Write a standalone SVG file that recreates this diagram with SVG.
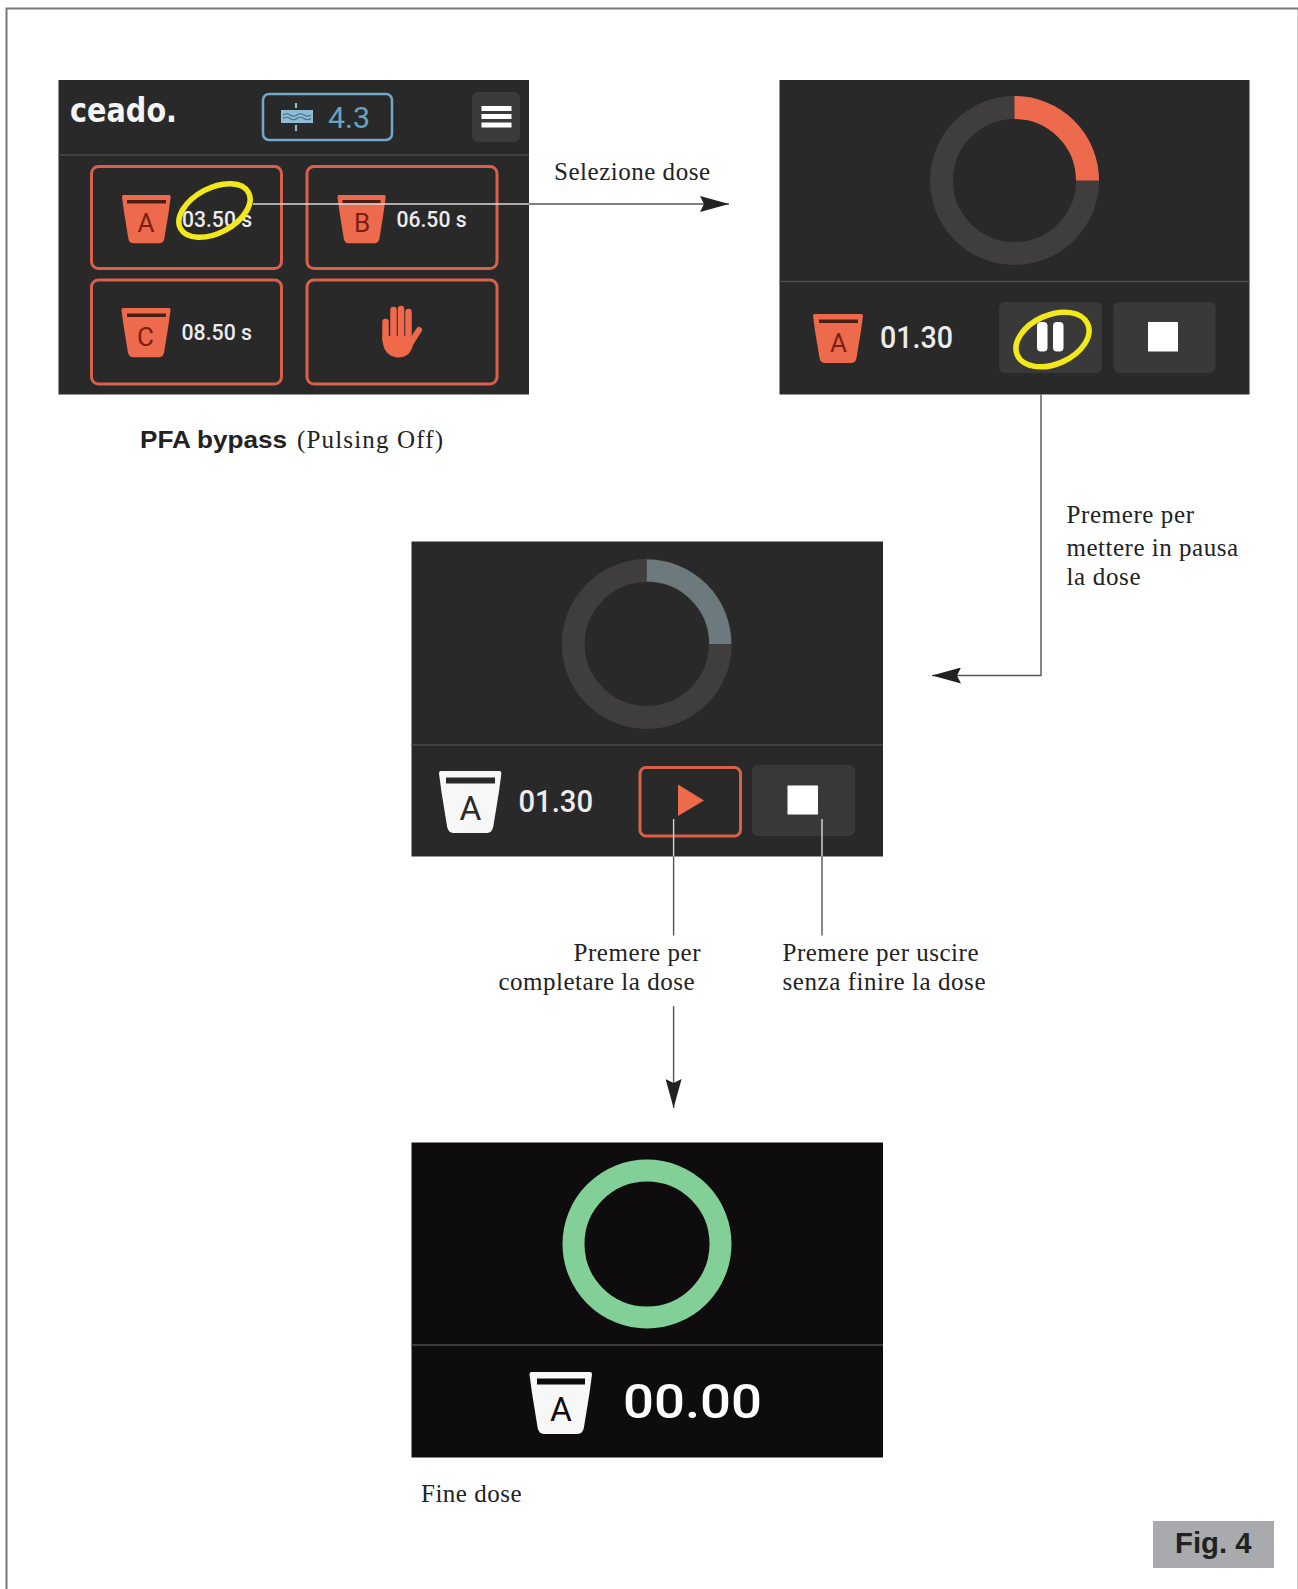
<svg xmlns="http://www.w3.org/2000/svg" xmlns:xlink="http://www.w3.org/1999/xlink" width="1298" height="1589" viewBox="0 0 1298 1589">
<style>
.panel{fill:#2a2929}
.div{stroke:#4b4a4a;stroke-width:1.3}
.card{fill:none;stroke:#d9604a;stroke-width:3}
.btn{fill:#3a3939}
.dig{font-family:"Roboto","Liberation Sans",sans-serif;font-weight:500;fill:#ececec}
.sm{font-size:22px}
.md{font-size:31px}
.let{font-family:"Roboto","Liberation Sans",sans-serif;text-anchor:middle;font-size:26px}
.big{font-size:33.5px}
.ser{font-family:"Liberation Serif",serif;font-size:25px;fill:#222}
.yel{fill:none;stroke:#f2e81a;stroke-width:5.5}
.track{fill:none;stroke:#3f3d3e;stroke-width:23}
.ln{stroke:#555;stroke-width:1.4;fill:none}
.lt{stroke:#d8d8d8;stroke-width:1.4;fill:none}
.o{fill:#ee6a4d}
.w{fill:#f7f7f7}
</style>
<defs>
<path id="bucket" d="M3 0H97Q100 0 100 4L96 34L87 90Q85 100 77 100H23Q15 100 13 90L4 34L0 4Q0 0 3 0Z"/>
<marker id="head" markerUnits="userSpaceOnUse" markerWidth="30" markerHeight="16" refX="29" refY="8" orient="auto"><path d="M0 0L29 8L0 16L4 8Z" fill="#222"/></marker>
</defs>
<rect width="1298" height="1589" fill="#fff"/>
<path d="M1297.5 1589V8.5" fill="none" stroke="#d0d0d0" stroke-width="1"/>
<path d="M6.5 1589V8.5H1298" fill="none" stroke="#777" stroke-width="2"/>

<g id="panel-select">
<rect class="panel" x="58.5" y="80" width="470.5" height="314.5"/>
<line class="div" x1="58.5" y1="155" x2="529" y2="155"/>
<text x="70" y="122" font-family="'DejaVu Sans',sans-serif" font-weight="700" font-size="33" fill="#f4f4f4" textLength="107" lengthAdjust="spacingAndGlyphs">ceado.</text>
<rect x="263" y="94" width="129" height="46" rx="6" fill="none" stroke="#6fa8c8" stroke-width="2.5"/>
<rect x="281" y="110" width="32" height="13" fill="#8fbcd4"/>
<path d="M283 115q3.500-2.500 7 0t7 0t7 0t7 0M283 118.500q3.500-2.500 7 0t7 0t7 0t7 0" stroke="#3f6f8c" stroke-width="1.200" fill="none"/>
<path d="M296 103V108M296 125V131" stroke="#8fbcd4" stroke-width="2.200" fill="none"/>
<text x="328" y="127.500" font-family="Roboto,sans-serif" font-size="29" fill="#68a3c4" textLength="42" lengthAdjust="spacingAndGlyphs">4.3</text>
<rect x="472" y="92" width="48" height="50" rx="6" fill="#3c3b3c"/>
<rect x="481.500" y="106" width="30" height="5" fill="#fff"/><rect x="481.500" y="114" width="30" height="5" fill="#fff"/><rect x="481.500" y="122.500" width="30" height="5" fill="#fff"/>
<rect class="card" x="91.500" y="166.500" width="190" height="102" rx="7"/>
<rect class="card" x="307" y="166.500" width="190" height="102" rx="7"/>
<rect class="card" x="91.500" y="280" width="190" height="104" rx="7"/>
<rect class="card" x="307" y="280" width="190" height="104" rx="7"/>
<use xlink:href="#bucket" href="#bucket" class="o" transform="translate(122 195) scale(.487 .483)"/>
<rect x="127" y="200" width="39" height="3.500" fill="#4a1d15"/>
<text class="let" x="146" y="232" fill="#7a2014">A</text>
<text class="dig sm" x="182" y="226.500" textLength="70" lengthAdjust="spacingAndGlyphs">03.50 s</text>
<use xlink:href="#bucket" href="#bucket" class="o" transform="translate(337.500 195) scale(.482 .483)"/>
<rect x="342.500" y="200" width="38" height="3.500" fill="#4a1d15"/>
<text class="let" x="362" y="232" fill="#7a2014">B</text>
<text class="dig sm" x="396.500" y="226.500" textLength="70" lengthAdjust="spacingAndGlyphs">06.50 s</text>
<use xlink:href="#bucket" href="#bucket" class="o" transform="translate(121.500 308) scale(.49 .493)"/>
<rect x="127" y="313.500" width="39" height="3.500" fill="#4a1d15"/>
<text class="let" x="145.500" y="346" fill="#7a2014">C</text>
<text class="dig sm" x="181.500" y="340" textLength="70.500" lengthAdjust="spacingAndGlyphs">08.50 s</text>
<g fill="none" stroke="#f0694a" stroke-linecap="round">
<path d="M385.500 322V340M393.500 310V336M401 309V336M408.500 312V336" stroke-width="6.500"/>
<path d="M407 349L419 330" stroke-width="6"/>
</g>
<path d="M382.500 336H411.500L413 345Q410 358 397 357.500Q385 356 383 344Z" fill="#f0694a"/>
<ellipse class="yel" cx="214.500" cy="210.500" rx="38.500" ry="22.500" transform="rotate(-28 214.500 210.500)"/>
</g>
<text id="caption-pfa" y="447.500"><tspan x="140" font-family="'Liberation Sans',sans-serif" font-weight="700" font-size="24.500" fill="#222" textLength="147" lengthAdjust="spacingAndGlyphs">PFA bypass</tspan><tspan x="297" class="ser" textLength="146">(Pulsing Off)</tspan></text>

<g id="panel-running">
<rect class="panel" x="779.500" y="80" width="470" height="314.500"/>
<line class="div" x1="779.500" y1="281.500" x2="1249.500" y2="281.500"/>
<circle class="track" cx="1014.500" cy="180.500" r="73"/>
<path d="M1014.500 107.500A73 73 0 0 1 1087.500 180.500" fill="none" stroke="#ee6a4d" stroke-width="23"/>
<use xlink:href="#bucket" href="#bucket" class="o" transform="translate(813 314) scale(.5 .49)"/>
<rect x="819" y="319.500" width="39" height="3.500" fill="#4a1d15"/>
<text class="let" x="838.500" y="352" fill="#7a2014">A</text>
<text class="dig md" x="880" y="347.500" textLength="73" lengthAdjust="spacingAndGlyphs">01.30</text>
<rect class="btn" x="999" y="302" width="103" height="71" rx="6"/>
<rect class="btn" x="1113.500" y="302" width="102" height="71" rx="6"/>
<rect x="1148" y="322" width="30" height="29.500" fill="#fff"/>
<rect x="1037" y="322" width="10.500" height="29.500" rx="4" fill="#fff"/>
<rect x="1053" y="322" width="10.500" height="29.500" rx="4" fill="#fff"/>
<ellipse class="yel" cx="1052.500" cy="339.500" rx="38.500" ry="24.500" transform="rotate(-24 1052.500 339.500)"/>
</g>

<g id="panel-paused">
<rect class="panel" x="411.500" y="541.500" width="471.500" height="315"/>
<line class="div" x1="411.500" y1="745" x2="883" y2="745"/>
<circle class="track" cx="646.800" cy="644" r="73.500"/>
<path d="M646.800 570.500A73.500 73.500 0 0 1 720.300 644" fill="none" stroke="#6c7a7d" stroke-width="22"/>
<use xlink:href="#bucket" href="#bucket" class="w" transform="translate(439 771) scale(.624 .62)"/>
<rect x="446" y="777.500" width="49" height="6" fill="#2a2929"/>
<text class="let big" x="470.500" y="820" fill="#2a2929">A</text>
<text class="dig md" x="518.500" y="812" textLength="74.500" lengthAdjust="spacingAndGlyphs">01.30</text>
<rect x="640" y="767.500" width="100.500" height="68.500" rx="6" fill="none" stroke="#d9604a" stroke-width="3"/>
<path d="M678 784.500L704 800.500L678 816Z" fill="#ee6a4d"/>
<rect class="btn" x="752" y="765" width="103" height="71" rx="6"/>
<rect x="787.500" y="785.500" width="30.500" height="29" fill="#fff"/>
</g>

<g id="panel-done">
<rect x="411.500" y="1142.500" width="471.500" height="315" fill="#0e0c0c"/>
<line class="div" x1="411.500" y1="1345" x2="883" y2="1345"/>
<circle cx="647" cy="1244" r="73.500" fill="none" stroke="#82d098" stroke-width="22"/>
<use xlink:href="#bucket" href="#bucket" class="w" transform="translate(529.500 1372) scale(.625 .62)"/>
<rect x="537" y="1378.500" width="48" height="6" fill="#0e0c0c"/>
<text class="let big" x="561" y="1421" fill="#0e0c0c">A</text>
<text class="dig" x="623" y="1418" font-size="49" textLength="139" lengthAdjust="spacingAndGlyphs" style="fill:#fff">00.00</text>
</g>

<g id="connectors">
<line class="lt" x1="253" y1="204" x2="529" y2="204"/>
<line class="ln" x1="529" y1="204" x2="729" y2="204" marker-end="url(#head)"/>
<path class="ln" d="M1041 394.500V675.500H932" marker-end="url(#head)"/>
<line class="lt" x1="673.600" y1="819" x2="673.600" y2="856.500"/>
<line class="ln" x1="673.600" y1="856.500" x2="673.600" y2="935.500"/>
<line class="lt" x1="822" y1="819" x2="822" y2="856.500"/>
<line class="ln" x1="822" y1="856.500" x2="822" y2="935.500"/>
<line class="ln" x1="673.600" y1="1006" x2="673.600" y2="1108" marker-end="url(#head)"/>
</g>

<g id="labels">
<text class="ser" x="554" y="180" textLength="156">Selezione dose</text>
<text class="ser" x="1066.500" y="523" textLength="127.500">Premere per</text>
<text class="ser" x="1066.500" y="556" textLength="171.500">mettere in pausa</text>
<text class="ser" x="1066.500" y="585" textLength="74">la dose</text>
<text class="ser" x="573.500" y="960.500" textLength="127">Premere per</text>
<text class="ser" x="498.500" y="990" textLength="196">completare la dose</text>
<text class="ser" x="782.500" y="960.500" textLength="196">Premere per uscire</text>
<text class="ser" x="782.500" y="990" textLength="203">senza finire la dose</text>
<text class="ser" x="421" y="1502" textLength="100.500">Fine dose</text>
</g>

<g id="fig-label">
<rect x="1153" y="1521" width="121" height="47" fill="#a8aaad"/>
<text x="1175" y="1552.500" font-family="'Liberation Sans',sans-serif" font-weight="700" font-size="29" fill="#222" textLength="76.500" lengthAdjust="spacingAndGlyphs">Fig. 4</text>
</g>
</svg>
